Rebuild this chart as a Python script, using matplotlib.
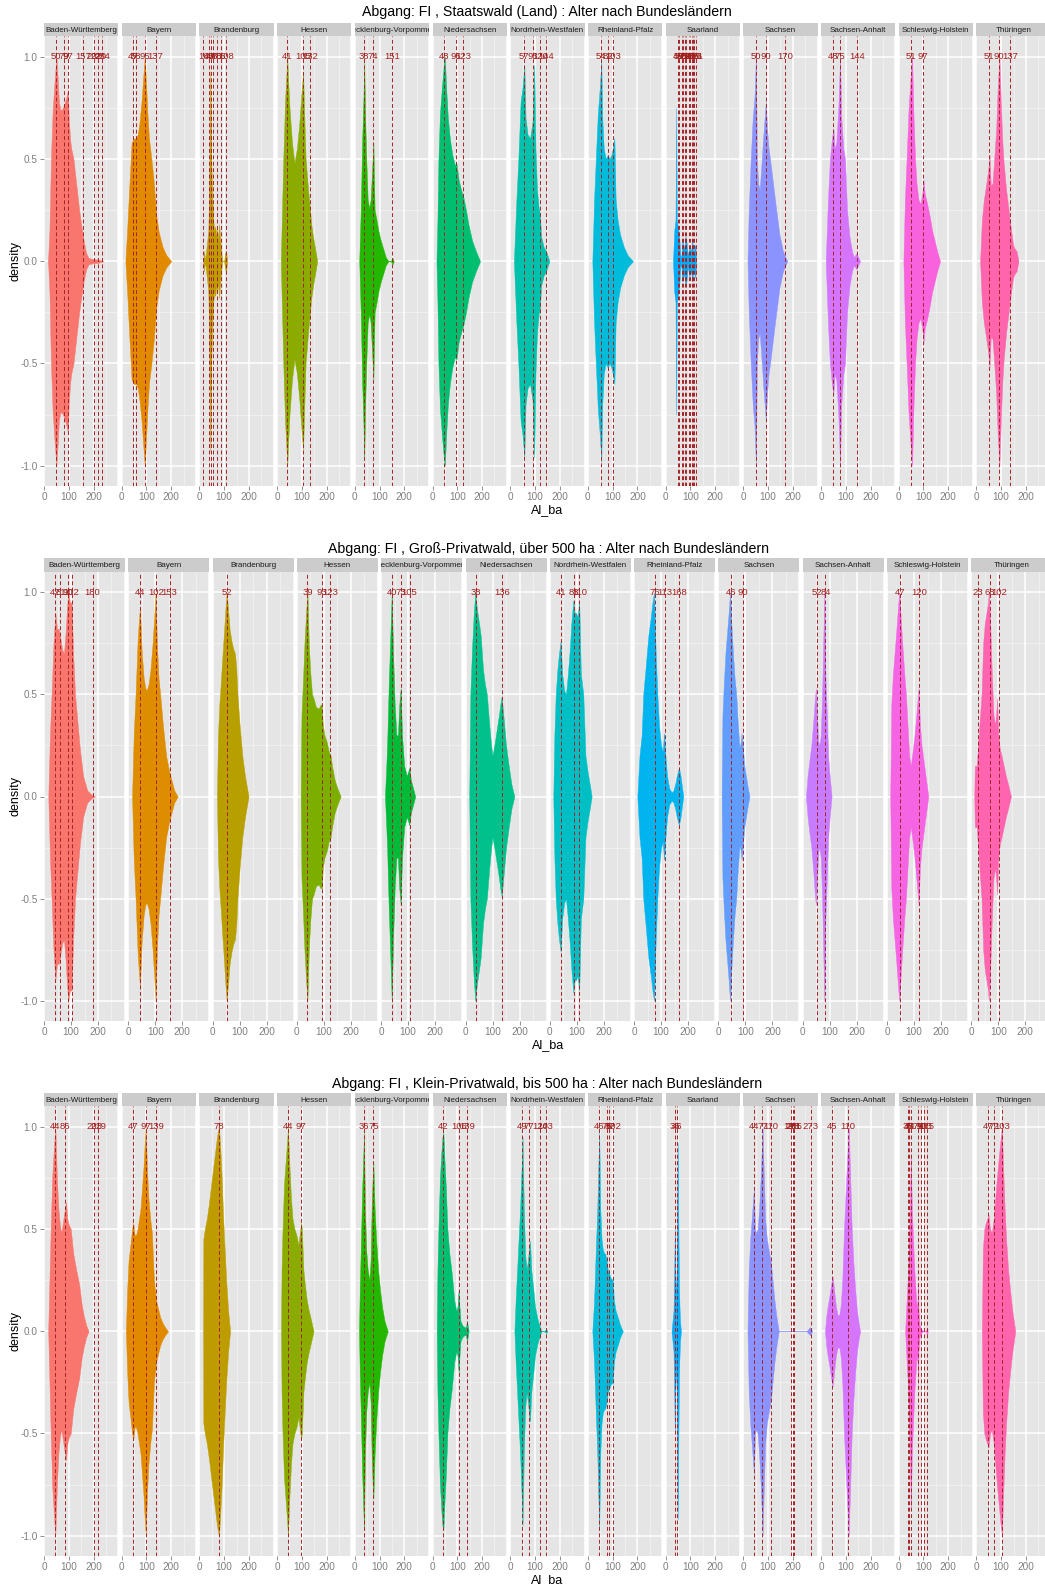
import numpy as np
import matplotlib
matplotlib.use("Agg")
import matplotlib.pyplot as plt

plt.rcParams['font.family'] = ['Liberation Sans', 'DejaVu Sans']

# ---------------- data ----------------
STATES_13 = ["Baden-Württemberg", "Bayern", "Brandenburg", "Hessen", "Mecklenburg-Vorpommern",
             "Niedersachsen", "Nordrhein-Westfalen", "Rheinland-Pfalz", "Saarland", "Sachsen",
             "Sachsen-Anhalt", "Schleswig-Holstein", "Thüringen"]
STATES_12 = [s for s in STATES_13 if s != "Saarland"]

TITLES = ["Abgang: FI , Staatswald (Land) : Alter nach Bundesländern",
          "Abgang: FI , Groß-Privatwald, über 500 ha : Alter nach Bundesländern",
          "Abgang: FI , Klein-Privatwald, bis 500 ha : Alter nach Bundesländern"]

# Panel 1: Staatswald (Land)
P1_AGE = {
    "Baden-Württemberg": [15, 17, 22, 28, 35, 42, 50, 55, 60, 66, 72, 80, 90, 97, 100, 105, 110, 119, 130, 142, 150, 160, 170, 180, 200, 220, 240],
    "Bayern": [15, 22, 30, 40, 50, 58, 65, 72, 80, 87, 93, 98, 104, 110, 120, 130, 136, 140, 150, 165, 180, 200],
    "Brandenburg": [15, 19, 23, 30, 36, 40, 44, 48, 52, 56, 60, 64, 68, 72, 76, 80, 84, 88, 92, 100, 104, 108, 112],
    "Hessen": [15, 20, 25, 32, 37, 41, 45, 50, 60, 70, 80, 90, 100, 105, 110, 115, 125, 133, 138, 145, 155, 162],
    "Mecklenburg-Vorpommern": [18, 24, 30, 35, 38, 41, 45, 52, 58, 64, 70, 75, 80, 88, 95, 105, 115, 125, 136, 145, 150, 153, 157],
    "Niedersachsen": [16, 20, 24, 30, 38, 45, 50, 55, 62, 70, 80, 90, 97, 105, 115, 125, 135, 145, 160, 175, 192],
    "Nordrhein-Westfalen": [15, 25, 33, 42, 50, 57, 62, 70, 80, 90, 97, 102, 108, 115, 120, 125, 135, 145, 158],
    "Rheinland-Pfalz": [18, 25, 32, 40, 48, 54, 58, 64, 72, 80, 88, 95, 100, 107, 112, 120, 130, 145, 160, 182],
    "Saarland": [30, 35, 40, 43, 45, 48, 52, 56, 60, 64, 68, 72, 76, 80, 84, 88, 92, 96, 100, 104, 108, 112, 116, 120, 124],
    "Sachsen": [17, 22, 30, 38, 45, 51, 55, 60, 66, 72, 80, 86, 91, 96, 102, 108, 118, 130, 146, 160, 170, 178],
    "Sachsen-Anhalt": [19, 28, 36, 44, 50, 55, 62, 70, 77, 82, 90, 97, 105, 115, 125, 132, 138, 144, 150, 158],
    "Schleswig-Holstein": [19, 25, 32, 40, 48, 54, 60, 66, 72, 80, 88, 95, 100, 105, 115, 125, 135, 145, 155, 167],
    "Thüringen": [15, 22, 30, 40, 48, 53, 58, 65, 72, 80, 86, 93, 98, 104, 110, 120, 130, 140, 148, 155, 162, 170],
}
P1_DENS = {
    "Baden-Württemberg": [0, 0.02, 0.15, 0.5, 0.74, 0.87, 1.0, 0.9, 0.78, 0.74, 0.74, 0.76, 0.8, 0.84, 0.7, 0.6, 0.55, 0.5, 0.38, 0.25, 0.18, 0.1, 0.04, 0.015, 0.01, 0.008, 0],
    "Bayern": [0, 0.15, 0.35, 0.58, 0.6, 0.6, 0.62, 0.68, 0.78, 0.9, 1.0, 0.88, 0.72, 0.6, 0.5, 0.38, 0.28, 0.22, 0.14, 0.07, 0.03, 0],
    "Brandenburg": [0, 0.05, 0, 0.08, 0.15, 0.4, 0.93, 0.5, 0.3, 0.2, 0.15, 0.17, 0.12, 0.16, 0.1, 0.18, 0.1, 0.05, 0, 0, 0.04, 0.05, 0],
    "Hessen": [0, 0.25, 0.5, 0.78, 0.9, 1.0, 0.88, 0.75, 0.58, 0.48, 0.55, 0.68, 0.85, 0.92, 0.7, 0.5, 0.35, 0.25, 0.18, 0.12, 0.05, 0],
    "Mecklenburg-Vorpommern": [0, 0.25, 0.6, 0.8, 0.97, 0.75, 0.55, 0.3, 0.26, 0.3, 0.45, 0.58, 0.25, 0.2, 0.15, 0.1, 0.06, 0.02, 0, 0, 0.01, 0.015, 0],
    "Niedersachsen": [0, 0.2, 0.5, 0.72, 0.85, 0.95, 1.0, 0.85, 0.7, 0.6, 0.52, 0.47, 0.48, 0.4, 0.35, 0.31, 0.25, 0.18, 0.1, 0.05, 0],
    "Nordrhein-Westfalen": [0, 0.3, 0.5, 0.78, 0.85, 0.96, 0.7, 0.62, 0.6, 0.68, 0.96, 0.55, 0.35, 0.26, 0.23, 0.12, 0.07, 0.05, 0],
    "Rheinland-Pfalz": [0, 0.3, 0.5, 0.72, 0.85, 0.98, 0.7, 0.55, 0.5, 0.52, 0.5, 0.52, 0.55, 0.6, 0.3, 0.2, 0.13, 0.07, 0.03, 0],
    "Saarland": [0, 0.15, 0.2, 0.75, 0.2, 0.18, 0.15, 0.1, 0.02, 0.03, 0.1, 0.08, 0.06, 0.12, 0.1, 0.05, 0.03, 0.08, 0.05, 0.06, 0.1, 0.04, 0.06, 0.08, 0],
    "Sachsen": [0, 0.25, 0.5, 0.7, 0.8, 1.0, 0.5, 0.38, 0.35, 0.45, 0.6, 0.7, 0.78, 0.65, 0.55, 0.5, 0.4, 0.28, 0.13, 0.05, 0.02, 0],
    "Sachsen-Anhalt": [0, 0.3, 0.5, 0.6, 0.65, 0.55, 0.58, 0.75, 1.0, 0.7, 0.55, 0.5, 0.25, 0.12, 0.05, 0.02, 0.03, 0.04, 0.02, 0],
    "Schleswig-Holstein": [0, 0.3, 0.5, 0.75, 0.9, 1.0, 0.7, 0.5, 0.38, 0.3, 0.28, 0.33, 0.4, 0.33, 0.28, 0.22, 0.15, 0.1, 0.05, 0],
    "Thüringen": [0, 0.2, 0.3, 0.38, 0.45, 0.52, 0.37, 0.38, 0.5, 0.65, 0.85, 1.0, 0.8, 0.6, 0.48, 0.35, 0.25, 0.15, 0.08, 0.06, 0.05, 0],
}
P1_LINES = {
    "Baden-Württemberg": [50, 79, 97, 157, 202, 220, 234],
    "Bayern": [47, 58, 95, 137],
    "Brandenburg": [16, 40, 48, 56, 70, 86, 108],
    "Hessen": [41, 105, 132],
    "Mecklenburg-Vorpommern": [38, 74, 151],
    "Niedersachsen": [48, 96, 123],
    "Nordrhein-Westfalen": [57, 93, 120, 144],
    "Rheinland-Pfalz": [54, 82, 103],
    "Saarland": [49, 55, 66, 71, 77, 82, 93, 98, 105, 110, 116, 121],
    "Sachsen": [50, 90, 170],
    "Sachsen-Anhalt": [48, 75, 144],
    "Schleswig-Holstein": [51, 97],
    "Thüringen": [51, 90, 137],
}

# Panel 2: Groß-Privatwald, über 500 ha
P2_AGE = {
    "Baden-Württemberg": [16, 22, 28, 35, 42, 48, 55, 60, 67, 74, 80, 85, 90, 96, 102, 108, 115, 125, 133, 145, 160, 175, 189],
    "Bayern": [14, 20, 27, 35, 43, 50, 57, 63, 68, 75, 82, 90, 96, 101, 106, 112, 118, 128, 140, 152, 160, 170, 183],
    "Brandenburg": [16, 20, 25, 30, 36, 42, 48, 52, 57, 63, 70, 77, 83, 88, 92, 100, 110, 120, 133],
    "Hessen": [14, 17, 22, 28, 34, 39, 44, 50, 56, 62, 70, 80, 88, 92, 96, 102, 110, 118, 125, 130, 140, 150, 162],
    "Mecklenburg-Vorpommern": [14, 18, 22, 28, 33, 39, 44, 50, 56, 62, 67, 72, 77, 85, 95, 104, 110, 118, 126],
    "Niedersachsen": [14, 18, 24, 30, 36, 42, 50, 56, 65, 72, 79, 88, 95, 100, 108, 116, 124, 130, 134, 140, 150, 160, 170, 181],
    "Nordrhein-Westfalen": [13, 17, 22, 28, 34, 40, 46, 53, 60, 67, 74, 80, 87, 92, 97, 103, 109, 115, 124, 132, 140, 148, 155],
    "Rheinland-Pfalz": [12, 20, 28, 34, 42, 53, 62, 68, 74, 80, 86, 92, 100, 106, 111, 116, 122, 130, 139, 146, 152, 158, 166, 172, 177, 182],
    "Sachsen": [12, 15, 20, 26, 32, 38, 43, 48, 54, 60, 66, 72, 78, 82, 86, 90, 96, 102, 108, 115],
    "Sachsen-Anhalt": [12, 18, 25, 32, 40, 45, 49, 53, 58, 62, 67, 72, 76, 80, 84, 88, 94, 100, 107],
    "Schleswig-Holstein": [12, 16, 22, 28, 35, 42, 46, 52, 58, 64, 70, 76, 82, 88, 95, 102, 110, 117, 122, 128, 135, 145, 153],
    "Thüringen": [11, 13, 20, 25, 30, 38, 44, 50, 56, 62, 65, 70, 76, 82, 88, 92, 96, 100, 106, 112, 120, 128, 136, 147],
}
P2_DENS = {
    "Baden-Württemberg": [0, 0.3, 0.5, 0.75, 0.9, 0.82, 0.82, 0.78, 0.72, 0.7, 0.8, 0.92, 1.0, 0.95, 0.95, 0.7, 0.5, 0.35, 0.23, 0.1, 0.03, 0.01, 0],
    "Bayern": [0, 0.3, 0.5, 0.78, 0.93, 0.7, 0.58, 0.53, 0.52, 0.55, 0.62, 0.75, 0.88, 1.0, 0.75, 0.58, 0.5, 0.35, 0.2, 0.12, 0.08, 0.03, 0],
    "Brandenburg": [0, 0.3, 0.45, 0.55, 0.68, 0.8, 0.93, 1.0, 0.92, 0.82, 0.76, 0.72, 0.7, 0.62, 0.5, 0.35, 0.2, 0.1, 0],
    "Hessen": [0, 0.4, 0.55, 0.75, 0.9, 1.0, 0.75, 0.6, 0.5, 0.48, 0.44, 0.43, 0.45, 0.45, 0.35, 0.3, 0.27, 0.22, 0.2, 0.15, 0.08, 0.04, 0],
    "Mecklenburg-Vorpommern": [0, 0.12, 0.25, 0.55, 0.75, 1.0, 0.7, 0.45, 0.3, 0.3, 0.45, 0.53, 0.3, 0.15, 0.1, 0.14, 0.08, 0.04, 0],
    "Niedersachsen": [0, 0.5, 0.72, 0.88, 1.0, 0.92, 0.85, 0.79, 0.62, 0.55, 0.5, 0.35, 0.25, 0.2, 0.26, 0.33, 0.4, 0.46, 0.49, 0.4, 0.25, 0.15, 0.06, 0],
    "Nordrhein-Westfalen": [0, 0.3, 0.5, 0.62, 0.7, 0.76, 0.6, 0.52, 0.5, 0.6, 0.72, 0.85, 0.96, 0.9, 0.9, 0.88, 0.95, 0.6, 0.5, 0.2, 0.12, 0.06, 0],
    "Rheinland-Pfalz": [0, 0.2, 0.3, 0.5, 0.62, 0.79, 0.88, 0.95, 1.0, 0.7, 0.5, 0.35, 0.25, 0.22, 0.31, 0.2, 0.1, 0.04, 0.02, 0.03, 0.06, 0.1, 0.14, 0.1, 0.05, 0],
    "Sachsen": [0, 0.4, 0.55, 0.7, 0.8, 0.9, 1.0, 0.85, 0.7, 0.58, 0.5, 0.35, 0.24, 0.26, 0.31, 0.25, 0.15, 0.1, 0.05, 0],
    "Sachsen-Anhalt": [0, 0.1, 0.18, 0.25, 0.38, 0.48, 0.53, 0.4, 0.27, 0.25, 0.3, 0.5, 0.75, 1.0, 0.6, 0.45, 0.2, 0.1, 0],
    "Schleswig-Holstein": [0, 0.45, 0.6, 0.7, 0.82, 0.95, 1.0, 0.85, 0.72, 0.6, 0.5, 0.35, 0.2, 0.15, 0.22, 0.3, 0.42, 0.53, 0.35, 0.25, 0.18, 0.08, 0],
    "Thüringen": [0, 0.15, 0.15, 0.25, 0.35, 0.5, 0.75, 0.85, 0.9, 0.95, 1.0, 0.85, 0.6, 0.4, 0.35, 0.4, 0.48, 0.3, 0.23, 0.2, 0.15, 0.1, 0.06, 0],
}
P2_LINES = {
    "Baden-Württemberg": [42, 61, 90, 102, 180],
    "Bayern": [44, 102, 153],
    "Brandenburg": [52],
    "Hessen": [39, 93, 123],
    "Mecklenburg-Vorpommern": [40, 73, 105],
    "Niedersachsen": [38, 136],
    "Nordrhein-Westfalen": [41, 88, 110],
    "Rheinland-Pfalz": [76, 113, 168],
    "Sachsen": [46, 90],
    "Sachsen-Anhalt": [52, 84],
    "Schleswig-Holstein": [47, 120],
    "Thüringen": [23, 68, 102],
}

# Panel 3: Klein-Privatwald, bis 500 ha
P3_AGE = {
    "Baden-Württemberg": [17, 22, 27, 33, 40, 46, 52, 58, 64, 69, 75, 82, 89, 94, 100, 108, 118, 130, 142, 152, 160, 170, 180],
    "Bayern": [17, 22, 28, 35, 42, 47, 52, 58, 64, 70, 76, 82, 88, 93, 97, 102, 108, 115, 122, 130, 139, 145, 155, 165, 175, 187],
    "Brandenburg": [15, 16, 22, 30, 38, 46, 54, 62, 70, 75, 79, 84, 90, 96, 100, 108, 116, 124],
    "Hessen": [16, 18, 22, 28, 34, 40, 44, 50, 56, 62, 70, 78, 86, 92, 97, 100, 106, 112, 120, 128, 136, 147],
    "Mecklenburg-Vorpommern": [17, 20, 25, 30, 34, 37, 41, 46, 52, 59, 64, 68, 72, 75, 80, 86, 94, 102, 110, 120, 133],
    "Niedersachsen": [17, 20, 24, 30, 36, 40, 44, 48, 54, 60, 68, 78, 88, 96, 101, 104, 106, 109, 113, 120, 128, 135, 139, 142, 146],
    "Nordrhein-Westfalen": [17, 22, 28, 34, 40, 46, 50, 55, 60, 66, 72, 77, 80, 85, 92, 100, 110, 120, 127, 135, 142, 146, 150],
    "Rheinland-Pfalz": [18, 25, 32, 38, 42, 46, 50, 55, 60, 66, 70, 75, 80, 86, 92, 97, 100, 105, 112, 120, 130, 141],
    "Saarland": [24, 28, 32, 35, 37, 39, 42, 45, 47, 49, 51, 54, 58, 62],
    "Sachsen": [17, 22, 28, 34, 40, 43, 47, 52, 58, 64, 70, 75, 78, 82, 88, 95, 102, 108, 112, 118, 126, 134, 143, 255, 262, 270, 274, 278],
    "Sachsen-Anhalt": [16, 22, 28, 35, 41, 47, 53, 60, 67, 74, 80, 86, 93, 100, 106, 112, 118, 124, 130, 138, 145, 152, 158],
    "Schleswig-Holstein": [26, 30, 35, 40, 45, 49, 53, 58, 63, 68, 72, 76, 78, 80, 84, 90, 100, 110, 113, 115, 117],
    "Thüringen": [22, 26, 32, 38, 44, 49, 55, 62, 70, 78, 85, 92, 98, 103, 108, 114, 120, 128, 136, 145, 157],
}
P3_DENS = {
    "Baden-Württemberg": [0, 0.25, 0.5, 0.75, 0.9, 1.0, 0.75, 0.6, 0.52, 0.48, 0.52, 0.58, 0.63, 0.55, 0.52, 0.5, 0.38, 0.3, 0.23, 0.13, 0.08, 0.03, 0],
    "Bayern": [0, 0.2, 0.35, 0.42, 0.5, 0.53, 0.47, 0.47, 0.5, 0.55, 0.6, 0.7, 0.8, 0.92, 1.0, 0.8, 0.65, 0.55, 0.48, 0.25, 0.15, 0.12, 0.07, 0.04, 0.02, 0],
    "Brandenburg": [0, 0.45, 0.5, 0.55, 0.62, 0.7, 0.78, 0.86, 0.94, 0.98, 1.0, 0.9, 0.75, 0.55, 0.45, 0.25, 0.1, 0],
    "Hessen": [0, 0.3, 0.5, 0.72, 0.82, 0.92, 1.0, 0.8, 0.65, 0.55, 0.5, 0.47, 0.42, 0.48, 0.53, 0.5, 0.3, 0.23, 0.15, 0.1, 0.06, 0],
    "Mecklenburg-Vorpommern": [0, 0.2, 0.45, 0.7, 0.85, 0.97, 0.6, 0.4, 0.3, 0.25, 0.35, 0.6, 0.75, 0.82, 0.6, 0.45, 0.3, 0.2, 0.12, 0.05, 0],
    "Niedersachsen": [0, 0.3, 0.5, 0.75, 0.88, 0.95, 0.97, 0.85, 0.7, 0.5, 0.38, 0.28, 0.15, 0.1, 0.12, 0.18, 0.2, 0.12, 0.05, 0.03, 0.02, 0.02, 0.05, 0.03, 0],
    "Nordrhein-Westfalen": [0, 0.15, 0.3, 0.45, 0.6, 0.8, 0.95, 0.6, 0.38, 0.3, 0.35, 0.42, 0.44, 0.3, 0.22, 0.12, 0.06, 0.02, 0, 0, 0.005, 0.01, 0],
    "Rheinland-Pfalz": [0, 0.15, 0.4, 0.6, 0.8, 0.97, 0.6, 0.45, 0.4, 0.38, 0.38, 0.35, 0.3, 0.28, 0.26, 0.25, 0.26, 0.15, 0.1, 0.07, 0.03, 0],
    "Saarland": [0, 0.05, 0.1, 0.3, 0.5, 0.3, 0.15, 0.3, 0.6, 0.92, 0.6, 0.2, 0.05, 0],
    "Sachsen": [0, 0.3, 0.45, 0.55, 0.65, 0.7, 0.5, 0.48, 0.5, 0.6, 0.75, 0.9, 1.0, 0.8, 0.55, 0.45, 0.4, 0.36, 0.33, 0.25, 0.15, 0.07, 0, 0, 0.01, 0.02, 0.01, 0],
    "Sachsen-Anhalt": [0, 0.08, 0.13, 0.18, 0.23, 0.27, 0.2, 0.12, 0.08, 0.08, 0.13, 0.25, 0.5, 0.7, 0.85, 1.0, 0.75, 0.5, 0.35, 0.2, 0.1, 0.04, 0],
    "Schleswig-Holstein": [0, 0.1, 0.22, 0.35, 0.6, 0.87, 0.6, 0.45, 0.3, 0.2, 0.12, 0.15, 0.23, 0.1, 0.03, 0.01, 0, 0, 0.015, 0.02, 0],
    "Thüringen": [0, 0.4, 0.5, 0.53, 0.55, 0.57, 0.5, 0.48, 0.55, 0.68, 0.78, 0.87, 0.95, 1.0, 0.8, 0.6, 0.45, 0.3, 0.2, 0.1, 0],
}
P3_LINES = {
    "Baden-Württemberg": [44, 86, 203, 219],
    "Bayern": [47, 97, 139],
    "Brandenburg": [78],
    "Hessen": [44, 97],
    "Mecklenburg-Vorpommern": [36, 75],
    "Niedersachsen": [42, 106, 139],
    "Nordrhein-Westfalen": [49, 77, 120, 143],
    "Rheinland-Pfalz": [46, 76, 87, 102],
    "Saarland": [36, 46],
    "Sachsen": [44, 77, 110, 193, 201, 205, 273],
    "Sachsen-Anhalt": [45, 110],
    "Schleswig-Holstein": [36, 43, 51, 79, 90, 103, 115],
    "Thüringen": [47, 72, 103],
}

X_TICKS = [0, 100, 200]
Y_TICKS = [-1.0, -0.5, 0.0, 0.5, 1.0]
Y_TICK_LABELS = ["-1.0", "-0.5", "0.0", "0.5", "1.0"]


# ---------------- colours (ggplot2 hue palette) ----------------
def hcl_hex(h, c=100.0, l=65.0):
    hr = np.deg2rad(h)
    u, v = c * np.cos(hr), c * np.sin(hr)
    Yn = 100.0
    un, vn = 0.1978398, 0.4683363
    Y = Yn * ((l + 16) / 116) ** 3 if l > 8 else Yn * l / 903.3
    up = u / (13 * l) + un
    vp = v / (13 * l) + vn
    X = 9.0 * Y * up / (4 * vp)
    Z = -X / 3 - 5 * Y + 3 * Y / vp

    def g(t):
        return 1.055 * t ** (1 / 2.4) - 0.055 if t > 0.00304 else 12.92 * t
    r = g((3.240479 * X - 1.537150 * Y - 0.498535 * Z) / Yn)
    gg = g((-0.969256 * X + 1.875992 * Y + 0.041556 * Z) / Yn)
    b = g((0.055648 * X - 0.204043 * Y + 1.057311 * Z) / Yn)
    return tuple(min(1, max(0, x)) for x in (r, gg, b))


def hue_pal(n):
    return [hcl_hex(h) for h in np.linspace(15, 375, n + 1)[:n]]


# ---------------- layout (pixels) ----------------
W, H = 1045, 1586
fig = plt.figure(figsize=(W / 100, H / 100), dpi=100)

PANELS = [
    dict(title=TITLES[0], states=STATES_13, age=P1_AGE, dens=P1_DENS, lines=P1_LINES,
         top=36.2, bottom=486.2, period=77.7, width=74.3, title_y=12),
    dict(title=TITLES[1], states=STATES_12, age=P2_AGE, dens=P2_DENS, lines=P2_LINES,
         top=571.9, bottom=1021.1, period=84.3, width=81.0, title_y=549),
    dict(title=TITLES[2], states=STATES_13, age=P3_AGE, dens=P3_DENS, lines=P3_LINES,
         top=1106.2, bottom=1556.2, period=77.7, width=74.3, title_y=1084),
]
LEFT0 = 44.0
STRIP_H = 13.5
GREY_TXT = "#7F7F7F"
LINE_COL = "#A52226"
LABEL_COL = "#A31D1D"

for P in PANELS:
    states = P["states"]
    cols = hue_pal(len(states))
    T, B = P["top"], P["bottom"]
    for i, st in enumerate(states):
        left = LEFT0 + i * P["period"]
        ax = fig.add_axes([left / W, 1 - B / H, P["width"] / W, (B - T) / H])
        ax.set_facecolor("#E5E5E5")
        ax.set_xlim(0, 300)
        ax.set_ylim(-1.1, 1.1)
        for s in ax.spines.values():
            s.set_visible(False)
        # grid
        for yv in [-0.75, -0.25, 0.25, 0.75]:
            ax.axhline(yv, color="#F2F2F2", lw=0.6, zorder=0.5)
        for xv in [50, 150, 250]:
            ax.axvline(xv, color="#F2F2F2", lw=0.6, zorder=0.5)
        for yv in Y_TICKS:
            ax.axhline(yv, color="white", lw=1.1, zorder=0.6)
        for xv in [0, 100, 200, 300]:
            ax.axvline(xv, color="white", lw=1.1, zorder=0.6)
        # density shape
        a = np.array(P["age"][st], dtype=float)
        d = np.array(P["dens"][st], dtype=float)
        ax.fill_between(a, -d, d, color=cols[i], lw=0.3, edgecolor=cols[i], zorder=2)
        # reference lines + labels
        for v in P["lines"][st]:
            ax.axvline(v, color=LINE_COL, lw=0.7, ls=(0, (4.0, 2.6)), zorder=3)
            ax.text(v, 1.0, str(v), ha="center", va="center", fontsize=6.8,
                    color=LABEL_COL, zorder=4)
        # ticks
        ax.set_xticks(X_TICKS)
        ax.set_xticklabels([str(t) for t in X_TICKS], fontsize=7.2, color=GREY_TXT)
        ax.tick_params(axis="x", length=3, width=0.6, color=GREY_TXT, pad=1.5)
        if i == 0:
            ax.set_yticks(Y_TICKS)
            ax.set_yticklabels(Y_TICK_LABELS, fontsize=7.2, color=GREY_TXT)
            ax.tick_params(axis="y", length=3, width=0.6, color=GREY_TXT, pad=1.5)
        else:
            ax.set_yticks([])
        # strip
        sax = fig.add_axes([left / W, 1 - T / H, P["width"] / W, STRIP_H / H])
        sax.set_facecolor("#CCCCCC")
        sax.set_xticks([])
        sax.set_yticks([])
        for s in sax.spines.values():
            s.set_visible(False)
        sax.text(0.5, 0.45, st, ha="center", va="center", fontsize=5.8,
                 color="#1A1A1A", clip_on=True, transform=sax.transAxes)

    n = len(states)
    cx = (LEFT0 + LEFT0 + (n - 1) * P["period"] + P["width"]) / 2
    fig.text(cx / W, 1 - P["title_y"] / H, P["title"], ha="center", va="center", fontsize=10.2)
    fig.text(cx / W, 1 - (B + 24) / H, "Al_ba", ha="center", va="center", fontsize=9)
    fig.text(15 / W, 1 - ((T + B) / 2) / H, "density", ha="center", va="center",
             rotation=90, fontsize=9)

fig.savefig("out.png", dpi=100, facecolor="white")
